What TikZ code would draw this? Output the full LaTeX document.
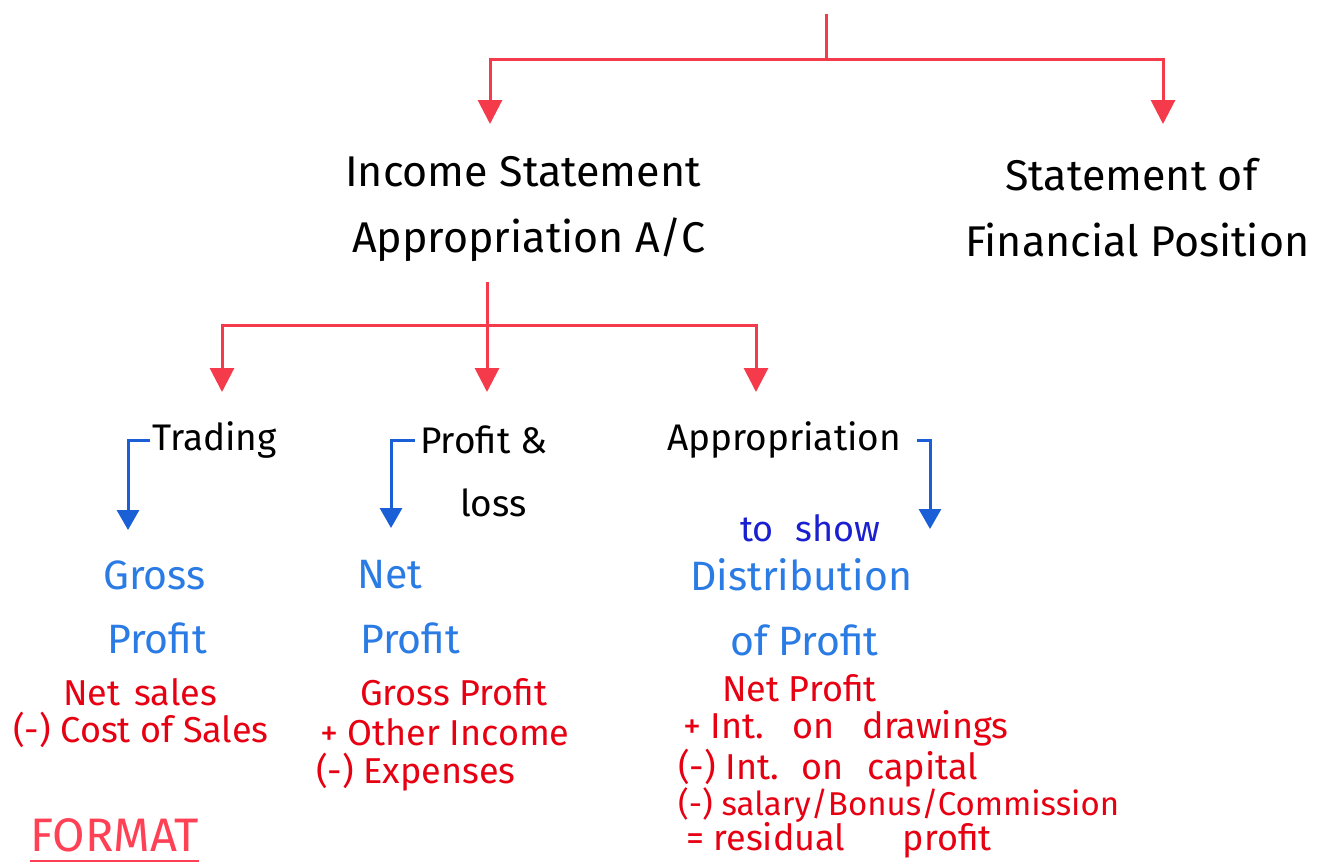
\documentclass[tikz,border=0pt]{standalone}
\usepackage{fontspec}
\setmainfont{Fira Sans}
\usetikzlibrary{arrows.meta}
\definecolor{redline}{HTML}{F53A4C}
\definecolor{redtext}{HTML}{E60012}
\definecolor{blueline}{HTML}{1A5FD6}
\definecolor{bluehead}{HTML}{2A7BE4}
\definecolor{toshow}{HTML}{1A1FD0}
\definecolor{formatred}{HTML}{FF4055}
\tikzset{
  hone/.style={font=\fontsize{43}{48}\selectfont, text=black, inner sep=0pt, anchor=west},
  htwo/.style={font=\fontsize{37}{42}\selectfont, text=black, inner sep=0pt},
  bhead/.style={font=\fontsize{41}{46}\selectfont, text=bluehead, inner sep=0pt, anchor=west},
  rtext/.style={font=\fontsize{36}{40}\selectfont, text=redtext, inner sep=0pt, anchor=west},
  redarrow/.style={draw=redline, line width=3pt, -{Triangle[width=24pt,length=24pt]}},
  bluearrow/.style={draw=blueline, line width=3pt, -{Triangle[width=22pt,length=20pt]}},
}
\begin{document}
\begin{tikzpicture}[x=1pt,y=-1pt]
\useasboundingbox (0,0) rectangle (1320,863);
% level 1
\coordinate (top) at (826,14);
\coordinate (a1) at (490,124);
\coordinate (a2) at (1163,124);
\node[hone] (inc1) at (345,172) {Income Statement};
\node[hone] (inc2) at (352,240) {Appropriation A/C};
\node[hone] (sfp1) at (1005,175) {Statement of};
\node[hone] (sfp2) at (965,240) {Financial Position};
\draw[redarrow] (top) -- ++(0,45) -| (a1);
\draw[redarrow] (top) -- ++(0,45) -| (a2);
% level 2
\coordinate (mid) at (487,282);
\coordinate (b1) at (222,392);
\coordinate (b2) at (487,392);
\coordinate (b3) at (756,392);
\draw[redarrow] (mid) -- ++(0,43) -| (b1);
\draw[redarrow] (mid) -- (b2);
\draw[redarrow] (mid) -- ++(0,43) -| (b3);
\node[htwo, anchor=west] (trad) at (152,440) {Trading};
\node[htwo, anchor=west] (pl1) at (420,440) {Profit \&};
\node[htwo, anchor=west] (pl2) at (460,503) {loss};
\node[htwo, anchor=west] (appr) at (667,440) {Appropriation};
\coordinate (c1) at (128,530);
\coordinate (c2) at (391,528);
\coordinate (c3) at (930,529);
\draw[bluearrow] ([xshift=-2pt]trad.west) -| (c1);
\draw[bluearrow] ([xshift=-5pt]pl1.west) -| (c2);
\draw[bluearrow] ([xshift=16pt]appr.east) -| (c3);
% blue heads
\node[font=\fontsize{36}{40}\selectfont, text=toshow, inner sep=0pt, anchor=west] (show) at (740,528) {to\hspace{22pt}show};
\node[bhead] (gp1) at (103,575) {Gross};
\node[bhead] (gp2) at (107,638) {Profit};
\node[bhead] (np1) at (357,575) {Net};
\node[bhead] (np2) at (360,638) {Profit};
\node[bhead] (dp1) at (690,575) {Distribution};
\node[bhead] (dp2) at (730,640) {of Profit};
% red texts
\node[rtext] (t1) at (63,692) {Net\hspace{14pt}sales};
\node[rtext] (t2) at (13,730) {(-) Cost of Sales};
\node[rtext] (p1) at (360,692) {Gross Profit};
\node[rtext] (p2) at (320,732) {+ Other Income};
\node[rtext] (p3) at (316,772) {(-) Expenses};
\node[rtext] (d1) at (722,688) {Net Profit};
\node[rtext] (d2) at (683,728) {+ Int.\hspace{16pt} on\hspace{18pt} drawings};
\node[rtext] (d3) at (678,768) {(-) Int.\hspace{10pt} on\hspace{14pt} capital};
\node[rtext, font=\fontsize{33}{38}\selectfont] (d4) at (678,805) {(-) salary/Bonus/Commission};
\node[rtext] (d5) at (686,840) {= residual\hspace{48pt} profit};
\node[font=\fontsize{47}{52}\selectfont, text=formatred, inner sep=0pt, anchor=west] (fmt) at (30,835) {FORMAT};
\draw[formatred, line width=2.5pt] (fmt.south west |- 0,861) -- (fmt.south east |- 0,861);
\end{tikzpicture}
\end{document}
